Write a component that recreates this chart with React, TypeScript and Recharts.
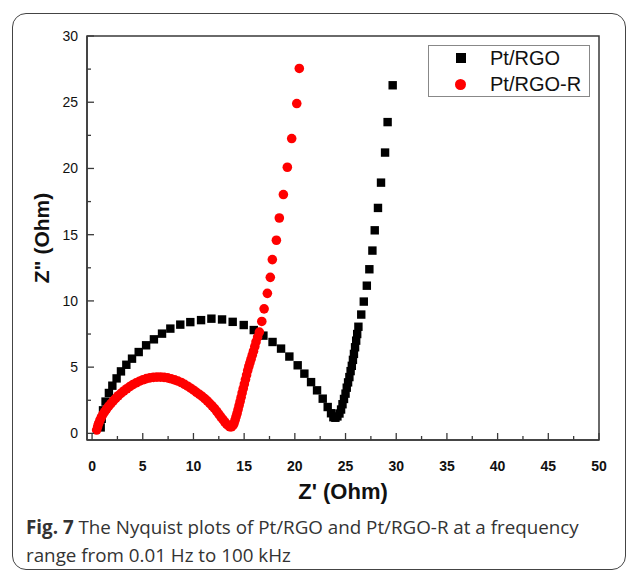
import React from 'react';
import { ScatterChart, Scatter, XAxis, YAxis, ReferenceArea } from 'recharts';

// Pt/RGO : [Z' (Ohm), Z'' (Ohm)]
const ptRgo: [number, number][] = [
  [0.85, 0.45], [0.95, 1.1], [1.08, 1.74], [1.33, 2.4], [1.66, 3.05], [2.0, 3.6],
  [2.42, 4.15], [2.85, 4.68], [3.38, 5.18], [3.94, 5.64], [4.6, 6.14], [5.33, 6.65],
  [6.1, 7.1], [6.9, 7.53], [7.72, 7.91], [8.7, 8.21], [9.69, 8.4], [10.75, 8.55],
  [11.77, 8.66], [12.82, 8.6], [13.87, 8.42], [14.96, 8.18], [15.95, 7.8], [16.9, 7.38],
  [17.8, 6.9], [18.64, 6.4], [19.46, 5.8], [20.28, 5.14], [20.94, 4.51], [21.6, 3.87],
  [22.19, 3.25], [22.75, 2.62], [23.24, 1.99], [23.57, 1.52], [23.8, 1.22], [24.0, 1.18],
  [24.2, 1.28], [24.4, 1.5], [24.56, 1.8], [24.7, 2.2], [24.85, 2.6], [25.0, 3.0],
  [25.12, 3.45], [25.25, 3.85], [25.38, 4.25], [25.5, 4.7], [25.62, 5.1], [25.73, 5.55],
  [25.83, 6.0], [25.94, 6.5], [26.05, 7.0], [26.15, 7.5], [26.27, 8.05], [26.55, 8.97],
  [26.8, 9.95], [27.1, 11.15], [27.35, 12.39], [27.65, 13.8], [27.88, 15.33], [28.2, 17.02],
  [28.5, 18.93], [28.9, 21.2], [29.15, 23.5], [29.65, 26.28],
];

// Pt/RGO-R : [Z' (Ohm), Z'' (Ohm)]
const ptRgoR: [number, number][] = [
  [0.45, 0.25], [0.55, 0.5], [0.65, 0.75], [0.78, 1.0], [0.92, 1.22], [1.08, 1.45],
  [1.25, 1.65], [1.44, 1.85], [1.64, 2.05], [1.86, 2.25], [2.09, 2.45], [2.33, 2.65],
  [2.58, 2.84], [2.85, 3.02], [3.13, 3.2], [3.42, 3.37], [3.72, 3.53], [4.03, 3.68],
  [4.35, 3.82], [4.68, 3.94], [5.02, 4.05], [5.36, 4.13], [5.7, 4.19], [6.05, 4.23],
  [6.4, 4.25], [6.75, 4.25], [7.1, 4.23], [7.45, 4.19], [7.8, 4.12], [8.14, 4.04],
  [8.47, 3.95], [8.8, 3.84], [9.12, 3.7], [9.43, 3.56], [9.73, 3.41], [10.02, 3.26],
  [10.3, 3.1], [10.58, 2.95], [10.85, 2.8], [11.11, 2.63], [11.36, 2.45], [11.6, 2.27],
  [11.84, 2.08], [12.07, 1.88], [12.29, 1.67], [12.5, 1.46], [12.7, 1.25], [12.9, 1.05],
  [13.09, 0.86], [13.27, 0.7], [13.44, 0.58], [13.6, 0.5], [13.75, 0.5], [13.9, 0.6],
  [14.0, 0.75], [14.1, 1.0], [14.2, 1.25], [14.3, 1.5], [14.4, 1.8], [14.5, 2.1],
  [14.6, 2.4], [14.7, 2.72], [14.8, 3.05], [14.91, 3.38], [15.02, 3.72], [15.13, 4.06],
  [15.24, 4.4], [15.35, 4.74], [15.46, 5.05], [15.57, 5.33], [15.68, 5.6], [15.8, 5.9],
  [15.92, 6.2], [16.05, 6.55], [16.17, 6.9], [16.33, 7.27], [16.5, 7.65], [16.74, 8.45],
  [16.97, 9.4], [17.29, 10.57], [17.58, 11.78], [17.78, 13.12], [18.18, 14.58], [18.47, 16.26],
  [18.87, 18.03], [19.26, 20.09], [19.69, 22.26], [20.19, 24.9], [20.44, 27.55],
];

const xTicks: number[] = [0, 2.5, 5, 7.5, 10, 12.5, 15, 17.5, 20, 22.5, 25, 27.5, 30, 32.5, 35, 37.5, 40, 42.5, 45, 47.5, 50];
const yTicks: number[] = [0, 2.5, 5, 7.5, 10, 12.5, 15, 17.5, 20, 22.5, 25, 27.5, 30];
const seriesNames: string[] = ['Pt/RGO', 'Pt/RGO-R'];
const xTitle = "Z' (Ohm)";
const yTitle = 'Z" (Ohm)';
const captionBold = 'Fig. 7';
const captionText1 = ' The Nyquist plots of Pt/RGO and Pt/RGO-R at a frequency';
const captionText2 = 'range from 0.01 Hz to 100 kHz';

const toPoints = (arr: [number, number][]) => arr.map(([x, y]) => ({ x, y }));

const AXIS = '#3a3a3a';
const FONT = 'Arial, "Liberation Sans", sans-serif';

const XTick = (props: any) => {
  const { x, y, payload } = props;
  const v = payload.value as number;
  const major = v % 5 === 0;
  return (
    <g>
      <line x1={x} x2={x} y1={y} y2={y - (major ? 7 : 4)} stroke={AXIS} strokeWidth={1.3} />
      {major && (
        <text x={x} y={y + 31} textAnchor="middle" fontFamily={FONT} fontSize={14} fontWeight="bold" fill="#111">
          {v}
        </text>
      )}
    </g>
  );
};

const YTick = (props: any) => {
  const { x, y, payload } = props;
  const v = payload.value as number;
  const major = v % 5 === 0;
  return (
    <g>
      <line x1={x} x2={x + (major ? 7 : 4)} y1={y} y2={y} stroke={AXIS} strokeWidth={1.3} />
      {major && (
        <text x={x - 9} y={y + 5} textAnchor="end" fontFamily={FONT} fontSize={14} fill="#111">
          {v}
        </text>
      )}
    </g>
  );
};

const SquareShape = (p: any) => <rect x={p.cx - 4.2} y={p.cy - 4.2} width={8.4} height={8.4} fill="#000" />;
const CircleShape = (p: any) => <circle cx={p.cx} cy={p.cy} r={4.8} fill="#ff0000" />;

const LegendBox = () => (
  <div
    style={{
      position: 'absolute',
      left: 428,
      top: 45,
      width: 162,
      height: 52,
      boxSizing: 'border-box',
      border: '1px solid #888',
      background: '#fff',
      fontFamily: FONT,
      fontSize: 20,
      color: '#111',
    }}
  >
    <div style={{ position: 'absolute', left: 27, top: 7, width: 10, height: 10, background: '#000' }} />
    <div style={{ position: 'absolute', left: 61, top: 0, lineHeight: '24px' }}>{seriesNames[0]}</div>
    <div style={{ position: 'absolute', left: 26, top: 33, width: 11, height: 11, borderRadius: '50%', background: '#ff0000' }} />
    <div style={{ position: 'absolute', left: 61, top: 26, lineHeight: '24px' }}>{seriesNames[1]}</div>
  </div>
);

export default function App() {
  return (
    <div style={{ position: 'absolute', left: 0, top: 0, width: 629, height: 573, background: '#fff', overflow: 'hidden' }}>
      <div
        style={{
          position: 'absolute',
          left: 12,
          top: 13,
          width: 614,
          height: 557,
          border: '1.5px solid #444',
          borderRadius: 14,
          boxSizing: 'border-box',
        }}
      />
      <div style={{ position: 'absolute', left: 0, top: 0 }}>
        <ScatterChart width={629} height={500} margin={{ top: 36, right: 30, left: 27, bottom: 20 }}>
          <XAxis
            type="number"
            dataKey="x"
            domain={[-0.5, 50]}
            ticks={xTicks}
            interval={0}
            tickSize={0}
            tickMargin={0}
            tickLine={false}
            tick={<XTick />}
            height={40}
            axisLine={{ stroke: AXIS, strokeWidth: 1.5 }}
            allowDataOverflow
          />
          <YAxis
            type="number"
            dataKey="y"
            domain={[-0.5, 30]}
            ticks={yTicks}
            interval={0}
            tickSize={0}
            tickMargin={0}
            tickLine={false}
            tick={<YTick />}
            width={60}
            axisLine={{ stroke: AXIS, strokeWidth: 1.5 }}
            allowDataOverflow
          />
          <ReferenceArea x1={-0.5} x2={50} y1={-0.5} y2={30} fill="none" stroke={AXIS} strokeWidth={1.5} ifOverflow="visible" />
          <Scatter name={seriesNames[0]} data={toPoints(ptRgo)} shape={SquareShape} isAnimationActive={false} />
          <Scatter name={seriesNames[1]} data={toPoints(ptRgoR)} shape={CircleShape} isAnimationActive={false} />
        </ScatterChart>
      </div>
      <LegendBox />
      <div
        style={{
          position: 'absolute',
          left: 243,
          top: 479,
          width: 200,
          textAlign: 'center',
          fontFamily: FONT,
          fontWeight: 'bold',
          fontSize: 22,
          color: '#111',
          lineHeight: '26px',
        }}
      >
        {xTitle}
      </div>
      <div
        style={{
          position: 'absolute',
          left: 42 - 100,
          top: 238 - 13,
          width: 200,
          textAlign: 'center',
          fontFamily: FONT,
          fontWeight: 'bold',
          fontSize: 21,
          color: '#111',
          lineHeight: '26px',
          transform: 'rotate(-90deg)',
        }}
      >
        {yTitle}
      </div>
      <div
        style={{
          position: 'absolute',
          left: 26,
          top: 513,
          fontFamily: '"Open Sans", sans-serif',
          fontSize: 18.8,
          lineHeight: '28px',
          color: '#333',
          whiteSpace: 'nowrap',
        }}
      >
        <div>
          <span style={{ fontWeight: 'bold' }}>{captionBold}</span>
          {captionText1}
        </div>
        <div>{captionText2}</div>
      </div>
    </div>
  );
}
